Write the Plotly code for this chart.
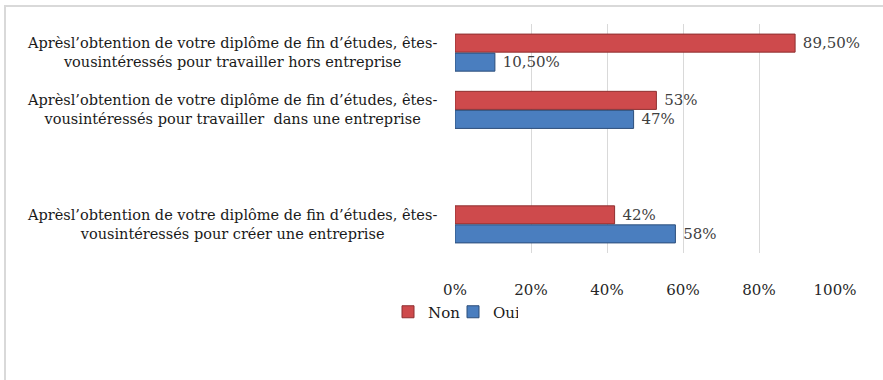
import plotly.graph_objects as go

categories = [
    "Aprèsl’obtention de votre diplôme de fin d’études, êtes-<br>vousintéressés pour travailler hors entreprise",
    "Aprèsl’obtention de votre diplôme de fin d’études, êtes-<br>vousintéressés pour travailler  dans une entreprise",
    " ",
    "Aprèsl’obtention de votre diplôme de fin d’études, êtes-<br>vousintéressés pour créer une entreprise",
]
non_values = [89.5, 53, None, 42]
oui_values = [10.5, 47, None, 58]
x_ticks = [0, 20, 40, 60, 80, 100]


def fmt(v):
    if v is None:
        return ""
    if float(v).is_integer():
        return f"{v:.0f}%"
    return f"{v:.2f}%".replace(".", ",")


FONT = "DejaVu Serif"
W, H = 883, 380
L, R, T, B = 455, 48, 24, 127
pw, ph = W - L - R, H - T - B

fig = go.Figure()
fig.add_trace(go.Bar(
    name="Non", y=categories, x=non_values, orientation="h",
    marker=dict(color="#CE4A4C", line=dict(color="#8E2F30", width=1)),
    text=[fmt(v) for v in non_values], textposition="outside",
    texttemplate="\u00a0%{text}",
    textfont=dict(family=FONT, size=15, color="#404040"),
    cliponaxis=False,
))
fig.add_trace(go.Bar(
    name="Oui", y=categories, x=oui_values, orientation="h",
    marker=dict(color="#4A7EBF", line=dict(color="#2C4E7A", width=1)),
    text=[fmt(v) for v in oui_values], textposition="outside",
    texttemplate="\u00a0%{text}",
    textfont=dict(family=FONT, size=15, color="#404040"),
    cliponaxis=False,
))

# centered category labels
for c in categories:
    if c.strip():
        fig.add_annotation(
            x=(232 - L) / pw, xref="paper", y=c, yref="y",
            text=c, showarrow=False, xanchor="center", align="center",
            font=dict(family=FONT, size=14.5, color="#1a1a1a"),
        )

# outer frame
fig.add_shape(
    type="rect", xref="paper", yref="paper",
    x0=(5 - L) / pw, x1=(895 - L) / pw,
    y0=(ph - (395 - T)) / ph, y1=(ph - (6 - T)) / ph,
    line=dict(color="#d9d9d9", width=2), layer="below",
)

fig.update_layout(
    width=W, height=H,
    margin=dict(l=L, r=R, t=T, b=B),
    paper_bgcolor="white", plot_bgcolor="white",
    barmode="group", bargap=0.336, bargroupgap=0.05,
    showlegend=True,
    legend=dict(
        orientation="h", x=(388 - L) / pw, xanchor="left",
        y=(ph - (312 - T)) / ph, yanchor="middle",
        font=dict(family=FONT, size=15, color="#1a1a1a"),
        bgcolor="rgba(0,0,0,0)", traceorder="normal",
        entrywidth=20, itemwidth=30,
    ),
    xaxis=dict(
        range=[0, 100], tickvals=x_ticks, ticktext=[f"{t}%" for t in x_ticks],
        showgrid=True, gridcolor="#d9d9d9", gridwidth=1,
        zeroline=False, showline=False,
        tickfont=dict(family=FONT, size=15, color="#262626"),
        ticklabelstandoff=26,
    ),
    yaxis=dict(
        categoryorder="array", categoryarray=categories,
        range=[3.5, -0.5], showticklabels=False, showgrid=False,
        zeroline=False, showline=False,
    ),
)

fig.write_html("out.html")
